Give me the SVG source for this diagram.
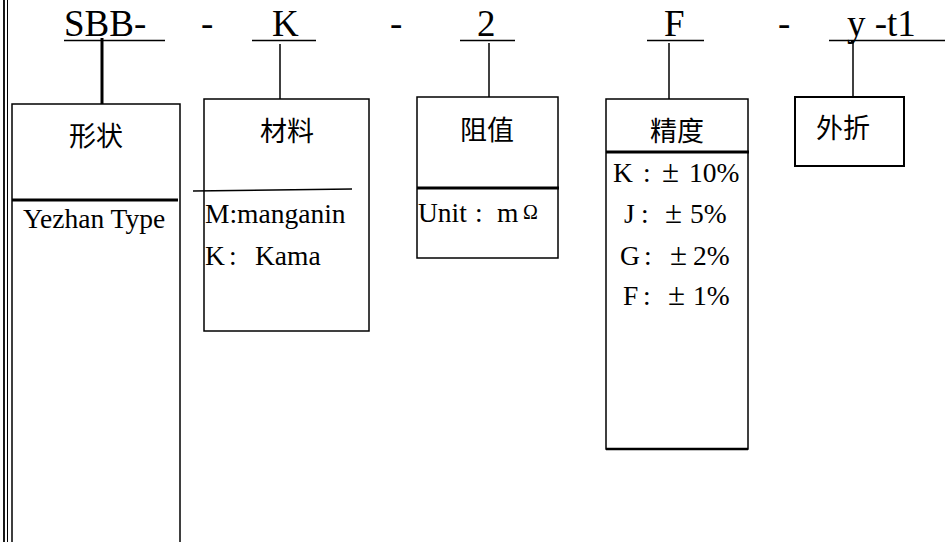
<svg xmlns="http://www.w3.org/2000/svg" width="945" height="542" viewBox="0 0 945 542">
<style>
.t{font-family:"Liberation Serif","Noto Sans CJK SC",serif;fill:#000}
.title{font-size:37px}
.body{font-size:27.5px}
.cjk{font-family:"Noto Sans CJK SC","Liberation Serif",sans-serif;font-size:27px;text-anchor:middle;fill:#000}
.box{fill:#fff;stroke:#000;stroke-width:1.5}
.div{stroke:#000;stroke-width:3}
.ul{stroke:#000;stroke-width:1.5}
.conn{stroke:#000;stroke-width:1.5;fill:none}
</style>
<rect width="945" height="542" fill="#fff"/>
<g id="frame">
<line x1="4" y1="0" x2="4" y2="542" stroke="#000" stroke-width="1.8"/>
<line x1="7.5" y1="0" x2="7.5" y2="542" stroke="#000" stroke-width="1"/>
</g>
<g id="code">
<text class="t title" x="64" y="36">SBB-</text>
<text class="t title" x="201" y="36">-</text>
<text class="t title" x="272" y="36">K</text>
<text class="t title" x="390" y="36">-</text>
<text class="t title" x="477" y="36">2</text>
<text class="t title" x="664" y="36">F</text>
<text class="t title" x="778" y="36">-</text>
<text class="t title" x="847" y="36">y -t1</text>
<line class="ul" x1="64" y1="40.5" x2="165" y2="40.5"/>
<line class="ul" x1="252" y1="40.5" x2="316" y2="40.5"/>
<line class="ul" x1="460" y1="40.5" x2="515" y2="40.5"/>
<line class="ul" x1="647" y1="40.5" x2="704" y2="40.5"/>
<line class="ul" x1="829" y1="40.5" x2="945" y2="40.5"/>
</g>
<g id="connectors">
<line x1="102" y1="38" x2="102" y2="104" stroke="#000" stroke-width="3"/>
<line class="conn" x1="280" y1="44" x2="280" y2="99"/>
<line class="conn" x1="489" y1="43" x2="489" y2="97"/>
<line class="conn" x1="669" y1="43" x2="669" y2="99"/>
<line class="conn" x1="853" y1="41" x2="853" y2="97"/>
<circle cx="852.5" cy="42" r="1.8" fill="#000"/>
</g>
<g id="shape">
<rect class="box" x="12" y="104" width="168" height="450"/>
<line class="div" x1="12" y1="200" x2="178" y2="200"/>
<text class="cjk" x="96" y="146">形状</text>
<text class="t body" x="23" y="228">Yezhan Type</text>
</g>
<g id="material">
<rect class="box" x="204" y="99" width="165" height="232"/>
<line x1="193" y1="191" x2="352" y2="189" stroke="#000" stroke-width="1.5"/>
<text class="cjk" x="287" y="141">材料</text>
<text class="t body" x="205" y="223">M:manganin</text>
<text class="t body" x="205" y="265">K<tspan x="229">:</tspan><tspan x="255">Kama</tspan></text>
</g>
<g id="resistance">
<rect class="box" x="417" y="97" width="141" height="161"/>
<line class="div" x1="417" y1="188" x2="559" y2="188"/>
<text class="cjk" x="487" y="140">阻值</text>
<text class="t body" x="418" y="222">Unit<tspan x="475">:</tspan><tspan x="497">m</tspan><tspan x="523" dy="-3" font-size="20">Ω</tspan></text>
</g>
<g id="precision">
<rect class="box" x="606" y="99" width="142" height="350"/>
<line x1="606" y1="449" x2="748" y2="449" stroke="#000" stroke-width="2.5"/>
<line class="div" x1="606" y1="152" x2="749" y2="152"/>
<text class="cjk" x="677" y="141">精度</text>
<text class="t body" x="613" y="182">K<tspan x="643">:</tspan><tspan x="662" font-size="31">±</tspan><tspan x="689">10%</tspan></text>
<text class="t body" x="624" y="223">J<tspan x="641">:</tspan><tspan x="665" font-size="31">±</tspan><tspan x="690">5%</tspan></text>
<text class="t body" x="620" y="265">G<tspan x="644">:</tspan><tspan x="670" font-size="31">±</tspan><tspan x="693">2%</tspan></text>
<text class="t body" x="623" y="305">F<tspan x="643">:</tspan><tspan x="668" font-size="31">±</tspan><tspan x="693">1%</tspan></text>
</g>
<g id="bend">
<rect x="795" y="97" width="109" height="69" fill="#fff" stroke="#000" stroke-width="2"/>
<text class="cjk" x="843" y="138">外折</text>
</g>
</svg>
